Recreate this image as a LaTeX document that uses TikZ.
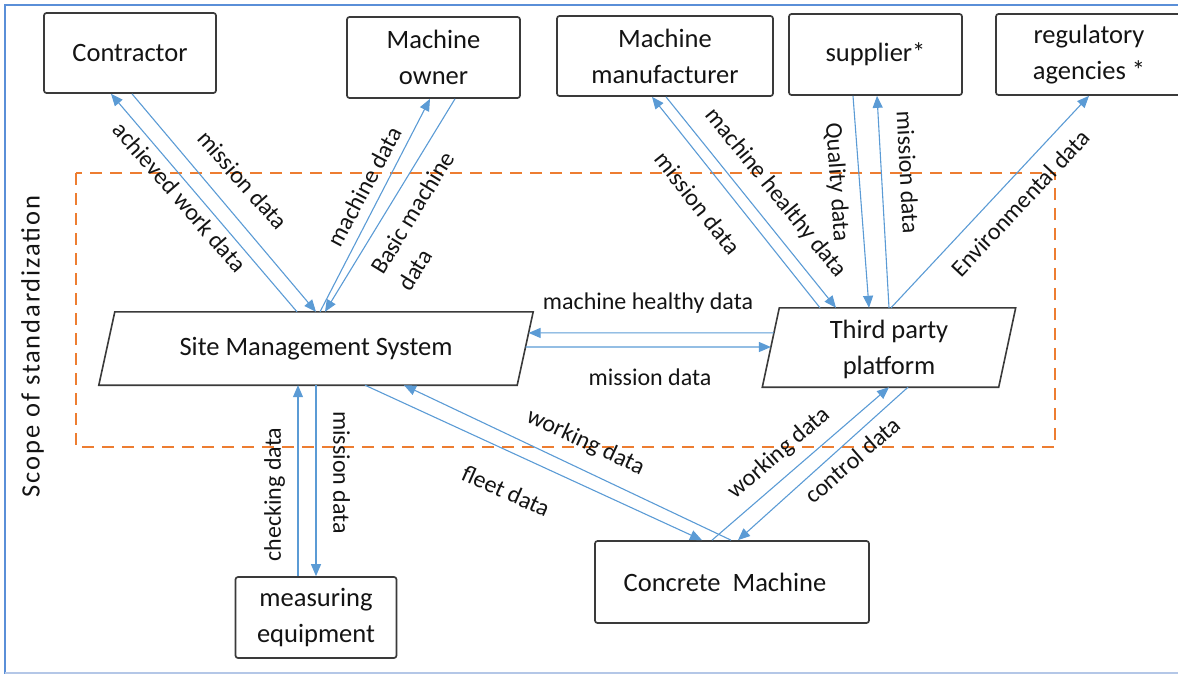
\documentclass[tikz,border=0pt]{standalone}
\usepackage{fontspec}
\setmainfont{Carlito}
\newfontfamily\scopefont{Carlito}[LetterSpace=7]
\usetikzlibrary{arrows.meta,calc}

\definecolor{flowblue}{HTML}{5B9BD5}
\definecolor{frameblue}{HTML}{5A8FD8}
\definecolor{framelight}{HTML}{B4C7E7}
\definecolor{scopeorange}{HTML}{ED7D31}
\definecolor{boxline}{HTML}{3A3A3A}
\definecolor{ink}{HTML}{141414}

\begin{document}
\begin{tikzpicture}[x=1pt,y=-1pt,
  entity/.style={draw=boxline, line width=1.7pt, rounded corners=2.5pt, fill=white,
    text=ink, font=\fontsize{26.5}{36}\selectfont, align=center, inner sep=0pt},
  platform/.style={draw=none, text=ink, font=\fontsize{26.5}{36}\selectfont,
    align=center, inner sep=0pt},
  outline/.style={draw=boxline, line width=1.6pt, fill=white},
  flow/.style={draw=flowblue, line width=1.1pt, -{Triangle[length=12pt,width=10pt]}},
  tag/.style={text=ink, font=\fontsize{24}{32}\selectfont, inner sep=0pt},
  scopebox/.style={draw=scopeorange, line width=1.8pt, dash pattern=on 12pt off 8pt},
]
\useasboundingbox (0,0) rectangle (1178,674);

% page frame
\draw[frameblue, line width=2.4pt] (1182,5) -- (5,5) -- (5,676);
\draw[framelight, line width=1.5pt] (5,673) -- (1182,673);

% scope of standardization
\draw[scopebox] (76,173) rectangle (1055,447);
\node[rotate=90, text=ink, inner sep=0pt, font=\scopefont\fontsize{26.5}{30}\selectfont]
  (scopetag) at (32.5,346.5) {Scope of standardization};

% stakeholders
\node[entity, minimum width=172pt, minimum height=80pt] (contractor) at (130,53) {Contractor};
\node[entity, minimum width=173pt, minimum height=81pt] (owner) at (433.5,57.5) {Machine\\owner};
\node[entity, minimum width=216pt, minimum height=80pt] (maker) at (665,56) {Machine\\manufacturer};
\node[entity, minimum width=173pt, minimum height=81pt] (supplier) at (875.5,54.5) {supplier*};
\node[entity, minimum width=186pt, minimum height=81pt] (agency) at (1089,54.5) {regulatory\\agencies *};
\node[entity, minimum width=274pt, minimum height=82pt] (machine) at (732,582) {Concrete\ \ Machine\kern14pt};
\node[entity, minimum width=161pt, minimum height=81pt] (gauge) at (316,617.5) {measuring\\equipment};

% the two platforms (parallelograms)
\node[platform, minimum width=418pt, minimum height=73pt] (sms) at (316,348.5) {};
\coordinate (smsNW) at ($(sms.north west)+(8,0)$);
\coordinate (smsNE) at ($(sms.north east)+(8,0)$);
\coordinate (smsSE) at ($(sms.south east)+(-8,0)$);
\coordinate (smsSW) at ($(sms.south west)+(-8,0)$);
\draw[outline] (smsNW) -- (smsNE) -- (smsSE) -- (smsSW) -- cycle;
\node[platform] (smstext) at (sms.center) {Site Management System};

\node[platform, minimum width=236pt, minimum height=79pt] (hub) at (889,347.5) {};
\coordinate (hubNW) at ($(hub.north west)+(8.5,0)$);
\coordinate (hubNE) at ($(hub.north east)+(8.5,0)$);
\coordinate (hubSE) at ($(hub.south east)+(-8.5,0)$);
\coordinate (hubSW) at ($(hub.south west)+(-8.5,0)$);
\draw[outline] (hubNW) -- (hubNE) -- (hubSE) -- (hubSW) -- cycle;
\node[platform] (hubtext) at ([yshift=-2pt]hub.center) {Third party\\platform};

% data flows
\draw[flow] ([xshift=-19pt]sms.north) -- ([xshift=-19pt]contractor.south);
\draw[flow] ([xshift=2pt]contractor.south) -- (sms.north);
\draw[flow] ([xshift=4pt]sms.north) -- ([xshift=-3.5pt]owner.south);
\draw[flow] ([xshift=21.5pt]owner.south) -- ([xshift=9pt]sms.north);
\draw[flow] ([xshift=-69pt]hub.north) -- ([xshift=-13pt]maker.south);
\draw[flow] ([xshift=1pt]maker.south) -- ([xshift=-53pt]hub.north);
\draw[flow] ([xshift=-22.5pt]supplier.south) -- ([xshift=-20pt]hub.north);
\draw[flow] (hub.north) -- ([xshift=1.5pt]supplier.south);
\draw[flow] ([xshift=2pt]hub.north) -- (agency.south);
\draw[flow] ($(hubNW)!0.316!(hubSW)$) -- ($(smsNE)!0.288!(smsSE)$);
\draw[flow] ($(smsNE)!0.479!(smsSE)$) -- ($(hubNW)!0.494!(hubSW)$);
\draw[flow] ([xshift=-18pt]gauge.north) -- ([xshift=-18pt]sms.south);
\draw[flow] (sms.south) -- (gauge.north);
\draw[flow] ([xshift=49pt]sms.south) -- ([xshift=-30pt]machine.north);
\draw[flow] ([xshift=-1pt]machine.north) -- ([xshift=88pt]sms.south);
\draw[flow] ([xshift=-20pt]machine.north) -- (hub.south);
\draw[flow] ([xshift=19pt]hub.south) -- ([xshift=6pt]machine.north);

% flow labels
\node[tag, rotate=-49] (t1) at (180,197) {achieved work data};
\node[tag, rotate=-48.5] (t2) at (243,180) {mission data};
\node[tag, rotate=62] (t3) at (364.5,186.5) {machine data};
\node[tag, rotate=58.5, align=left] (t4) at (426,221) {Basic machine\\data};
\node[tag, rotate=-51.7] (t5) at (698,203) {mission data};
\node[tag, rotate=-51] (t6) at (775.5,193) {machine healthy data};
\node[tag, rotate=-86] (t7) at (836.5,182.5) {Quality data};
\node[tag, rotate=-87] (t8) at (908,172.5) {mission data};
\node[tag, rotate=46.8] (t9) at (1020.5,203) {Environmental data};
\node[tag] (t10) at (648,303) {machine healthy data};
\node[tag] (t11) at (650,377) {mission data};
\node[tag, rotate=90] (t12) at (274.5,494.5) {checking data};
\node[tag, rotate=-90] (t13) at (341.5,472.5) {mission data};
\node[tag, rotate=-25] (t14) at (585.5,442.5) {working data};
\node[tag, rotate=-24] (t15) at (506,491) {fleet data};
\node[tag, rotate=41] (t16) at (779.5,453.5) {working data};
\node[tag, rotate=41] (t17) at (852.5,460) {control data};
\end{tikzpicture}
\end{document}
